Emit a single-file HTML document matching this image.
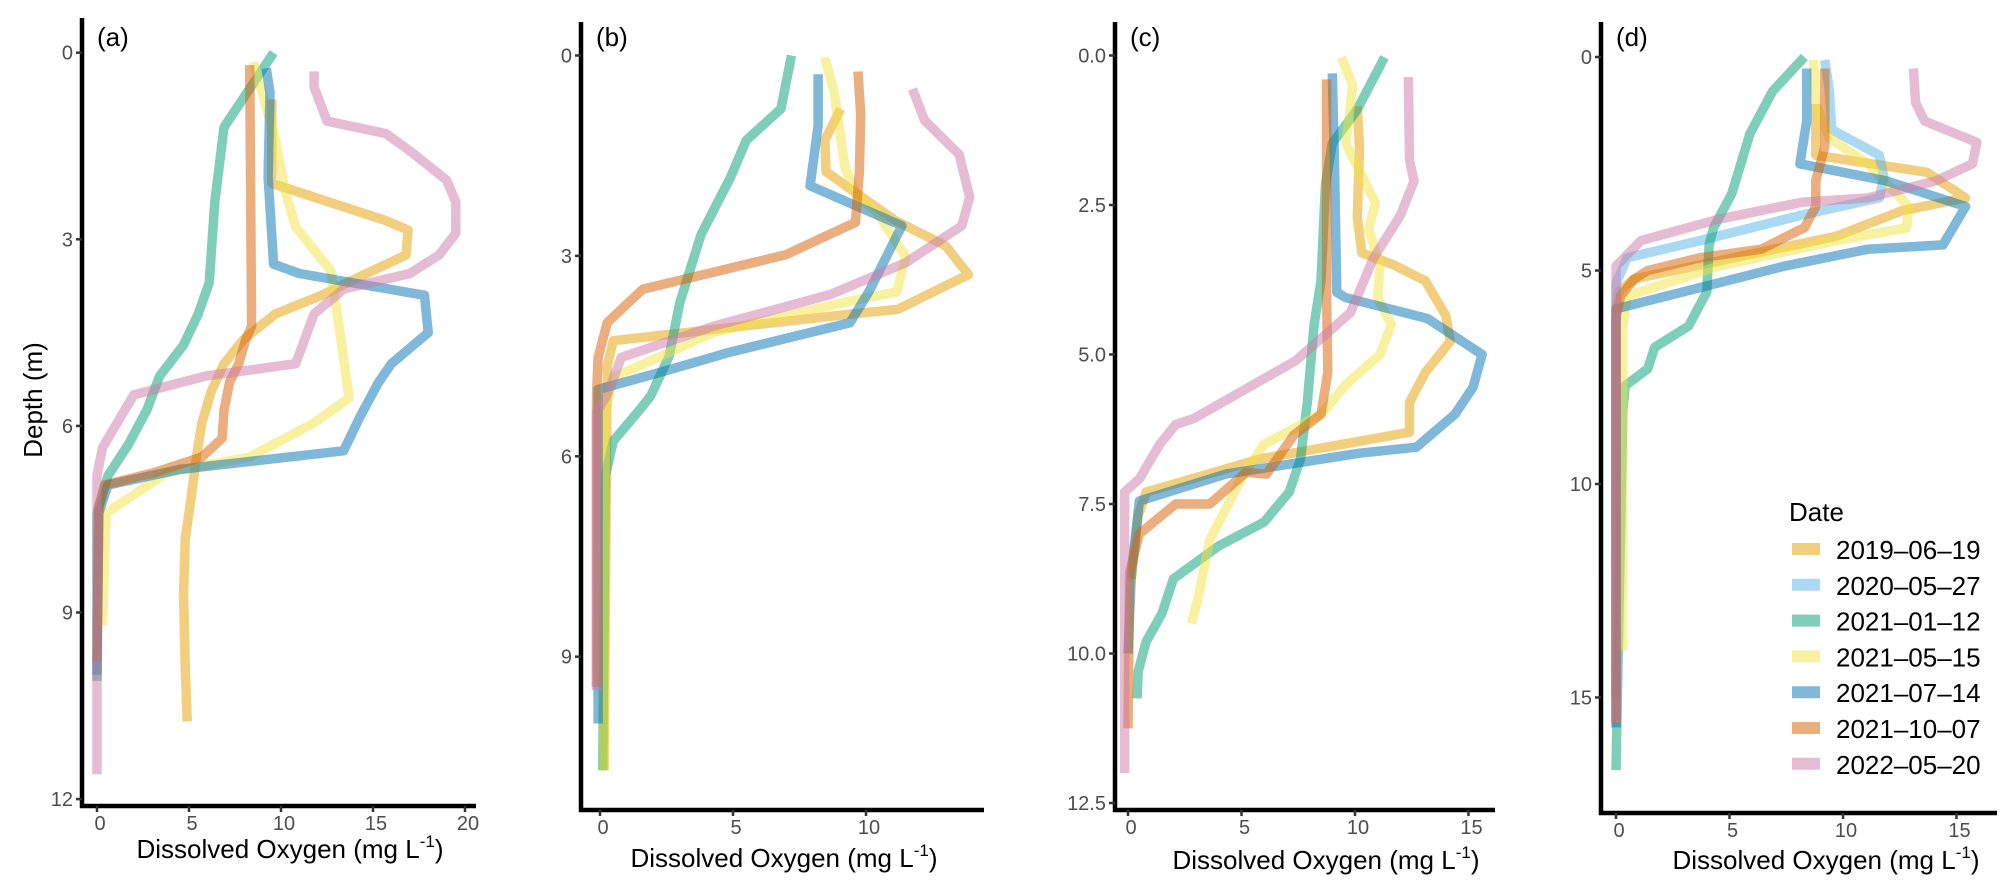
<!DOCTYPE html>
<html><head><meta charset="utf-8">
<style>
body{margin:0;background:#fff;}
svg{display:block;font-family:"Liberation Sans",sans-serif;}
.tick{fill:#4d4d4d;font-size:20px;}
.ttl{fill:#000;font-size:26px;}
</style></head>
<body>
<svg id="chart" width="2013" height="893" viewBox="0 0 2013 893"></svg>
<script>
const dates = ["2019-06-19","2020-05-27","2021-01-12","2021-05-15","2021-07-14","2021-10-07","2022-05-20"];
const colors = ["#E69F00","#56B4E9","#009E73","#F0E442","#0072B2","#D55E00","#CC79A7"];
const aSeries = {
 "2019-06-19":[[9.5,0.75],[9.5,2.1],[15.7,2.7],[16.9,2.85],[16.8,3.25],[14.3,3.6],[12.2,3.9],[9.7,4.2],[8,4.6],[6.9,5],[6.2,5.45],[5.7,5.95],[5.4,6.5],[5.1,7.2],[4.8,7.8],[4.7,8.7],[4.8,9.9],[4.9,10.75]],
 "2021-01-12":[[9.6,0],[6.9,1.2],[6.4,2.4],[6.1,3.7],[5.5,4.2],[4.7,4.7],[3.4,5.2],[2.7,5.75],[1.7,6.3],[0.6,6.8],[0,7.4],[0,10.1]],
 "2021-05-15":[[8.5,0.15],[9.7,1.4],[10.2,2.2],[10.8,2.8],[12.7,3.5],[13.2,4.5],[13.7,5.55],[11.8,5.95],[8.3,6.5],[3.8,6.75],[0.5,7.4],[0.3,9.2]],
 "2021-07-14":[[9.2,0.25],[9.4,0.65],[9.3,2],[9.6,3.4],[11,3.55],[17.8,3.9],[18,4.5],[16,5.0],[15.3,5.3],[14.3,5.85],[13.4,6.4],[4.5,6.7],[0.6,6.95],[0.1,7.4],[0,10.0]],
 "2021-10-07":[[8.3,0.2],[8.4,4.4],[8.1,4.6],[7.7,5.0],[7.2,5.3],[6.9,5.75],[6.8,6.2],[5.7,6.5],[3.1,6.75],[0.4,6.95],[0.1,7.3],[0,9.8]],
 "2022-05-20":[[11.8,0.3],[11.8,0.55],[12.5,1.1],[15.7,1.3],[17.1,1.6],[19,2.05],[19.5,2.4],[19.5,2.9],[18.6,3.25],[17,3.55],[13.4,3.8],[11.8,4.2],[10.8,5.0],[5.9,5.2],[2,5.5],[0.3,6.35],[0,6.8],[0,11.6]]
};
const bSeries = {
 "2019-06-19":[[9.05,0.8],[8.45,1.27],[8.5,1.74],[9.7,2.08],[11.1,2.47],[13.0,2.85],[13.85,3.28],[11.2,3.8],[9.2,3.88],[0.5,4.27],[0.27,4.65],[0.15,10.7]],
 "2021-01-12":[[7.2,0],[6.8,0.8],[5.5,1.27],[4.9,1.83],[3.8,2.68],[3.0,3.7],[2.6,4.5],[1.9,5.1],[1.5,5.3],[0.5,5.77],[0.2,6.3],[0.1,10.7]],
 "2021-05-15":[[8.45,0.03],[8.8,0.54],[9.2,1.65],[9.6,2.08],[10.4,2.34],[11.5,3.02],[11.15,3.54],[9.45,3.67],[4.3,4.14],[0.5,4.82],[0.2,5.34],[0.15,10.7]],
 "2021-07-14":[[8.2,0.28],[8.2,1.05],[7.9,1.95],[11.35,2.55],[10.1,3.54],[9.4,4.0],[4.9,4.44],[2.3,4.74],[-0.07,5.0],[-0.07,10.0]],
 "2021-10-07":[[9.7,0.24],[9.8,0.88],[9.75,1.74],[9.6,2.5],[9.05,2.6],[7.0,2.98],[1.6,3.5],[0.27,4.0],[-0.07,4.52],[-0.13,5.08],[-0.13,9.45]],
 "2022-05-20":[[11.75,0.5],[12.2,0.97],[13.5,1.48],[13.9,2.12],[13.6,2.55],[11.5,3.1],[8.65,3.58],[4.3,4.05],[0.8,4.52],[0.27,5.08],[-0.13,5.34],[-0.13,9.5]]
};
const cSeries = {
 "2019-06-19":[[10.1,0.85],[10.2,1.55],[10.1,2.7],[10.3,3.3],[11.7,3.5],[13.1,3.77],[14.0,4.35],[14.2,4.78],[13.1,5.3],[12.4,5.8],[12.4,6.3],[5.8,6.75],[0.8,7.3],[0.45,7.7],[0.15,8.75]],
 "2021-01-12":[[11.3,0.03],[10.1,0.9],[9.0,1.47],[8.7,2.15],[8.5,3.77],[8.2,4.5],[7.9,5.8],[7.6,6.75],[7.1,7.3],[6.0,7.8],[4.0,8.2],[2.0,8.75],[1.5,9.33],[0.8,9.8],[0.45,10.3],[0.4,10.75]],
 "2021-05-15":[[9.4,0.03],[9.9,0.5],[9.6,1.47],[10.9,2.47],[10.6,2.9],[11.1,3.5],[11.0,4.05],[11.6,4.5],[11.1,5.0],[9.6,5.5],[8.5,6.0],[6.0,6.5],[5.1,7.0],[3.6,8.1],[3.1,9.05],[2.8,9.5]],
 "2021-07-14":[[9.0,0.3],[9.1,1.9],[9.2,3.96],[9.6,4.05],[13.2,4.4],[14.0,4.6],[15.6,5.0],[15.2,5.55],[14.4,6.0],[12.7,6.55],[10.2,6.65],[4.3,7.0],[0.5,7.45],[0.15,8.65],[0,10]],
 "2021-10-07":[[8.75,0.4],[8.75,4.05],[8.8,5.3],[8.5,6.0],[7.3,6.35],[6.1,7.0],[5.2,6.97],[3.6,7.5],[2.1,7.5],[0.5,8.0],[0.07,8.65],[0,11.25]],
 "2022-05-20":[[12.35,0.36],[12.4,1.75],[12.6,2.1],[12.0,2.67],[10.8,3.4],[9.8,4.3],[7.4,5.1],[4.9,5.64],[2.9,6.07],[2.1,6.17],[1.4,6.5],[0.5,7.08],[-0.15,7.3],[-0.15,12]]
};
const dSeries = {
 "2019-06-19":[[8.8,1.1],[8.8,2.3],[13.7,2.7],[15.4,3.3],[12.6,3.6],[9.7,4.2],[5.2,4.7],[0.8,5.2],[0.1,5.5],[0,6]],
 "2020-05-27":[[9.2,0.07],[9.4,0.8],[9.5,1.7],[11.6,2.3],[11.8,2.8],[11.6,3.3],[8.2,3.7],[3.7,4.3],[0.5,4.7],[0,5.3],[0,15]],
 "2021-01-12":[[8.3,0],[6.9,0.8],[5.9,1.8],[5.1,3.2],[4.3,4.0],[4.1,4.4],[4.0,5.5],[3.2,6.3],[1.7,6.8],[1.4,7.3],[0.4,7.7],[0.3,8.3],[0,16.7]],
 "2021-05-15":[[8.7,0.07],[8.8,1.1],[9.4,1.9],[11.1,2.5],[12.9,3.5],[12.8,4.0],[9.7,4.3],[4.5,4.9],[0.5,5.6],[0.3,6.3],[0.3,13.9]],
 "2021-07-14":[[8.4,0.27],[8.4,1.5],[8.1,2.5],[11.9,2.9],[15.4,3.5],[14.4,4.4],[11.1,4.5],[7.4,4.9],[3.7,5.4],[0,5.9],[0,15.7]],
 "2021-10-07":[[9.2,0.27],[9.2,2.1],[8.8,2.9],[8.8,3.5],[8.3,4.0],[7.9,4.1],[6.4,4.5],[3.7,4.7],[1.4,5.0],[0.8,5.2],[0.2,5.6],[0,6.1],[0,15.6]],
 "2022-05-20":[[13.1,0.27],[13.2,1.07],[13.6,1.5],[15.9,2.0],[15.7,2.5],[14.1,2.9],[11.1,3.3],[8.2,3.4],[4.5,3.8],[1.1,4.3],[0,4.9],[0,15.6]]
};
const aXTicks=[0,5,10,15,20], aYTicks=[0,3,6,9,12];
const bXTicks=[0,5,10], bYTicks=[0,3,6,9];
const cXTicks=[0,5,10,15], cYTicks=[0,2.5,5,7.5,10,12.5];
const dXTicks=[0,5,10,15], dYTicks=[0,5,10,15];

const NS="http://www.w3.org/2000/svg";
const svg=document.getElementById('chart');
function mk(tag,attrs,parent){const e=document.createElementNS(NS,tag);for(const k in attrs)e.setAttribute(k,attrs[k]);(parent||svg).appendChild(e);return e;}

const panels=[
 {id:'a',s:aSeries,xt:aXTicks,yt:aYTicks,ax:82,top:18,bot:806,right:476,x0:97,xk:18.4,y0:52.7,yk:62.2,tc:290,tb:858,yfmt:v=>String(v)},
 {id:'b',s:bSeries,xt:bXTicks,yt:bYTicks,ax:581,top:22,bot:810,right:984,x0:600,xk:26.6,y0:55.5,yk:66.8,tc:784,tb:867,yfmt:v=>String(v)},
 {id:'c',s:cSeries,xt:cXTicks,yt:cYTicks,ax:1115,top:22,bot:810,right:1495,x0:1128,xk:22.7,y0:55.5,yk:59.8,tc:1326,tb:869,yfmt:v=>v.toFixed(1)},
 {id:'d',s:dSeries,xt:dXTicks,yt:dYTicks,ax:1601,top:22,bot:813,right:1997,x0:1616,xk:22.7,y0:57,yk:42.7,tc:1826,tb:869,yfmt:v=>String(v)}
];
panels.forEach(p=>{
 const g=mk('g',{});
 
 
 const X=v=>p.x0+p.xk*v, Y=d=>p.y0+p.yk*d;
 dates.forEach((dt,i)=>{
  const pts=p.s[dt]; if(!pts) return;
  const pl=mk('polyline',{points:pts.map(q=>X(q[0]).toFixed(1)+','+Y(q[1]).toFixed(1)).join(' '),fill:'none',stroke:colors[i],'stroke-width':9.5,'stroke-opacity':0.5,'stroke-linejoin':'round'},g);
  
  
 });
 const ya=mk('line',{x1:p.ax,y1:p.top,x2:p.ax,y2:p.bot+2,stroke:'#000','stroke-width':4.5},g);
 
 
 const xa=mk('line',{x1:p.ax-2,y1:p.bot,x2:p.right,y2:p.bot,stroke:'#000','stroke-width':4.5},g);
 
 
 p.yt.forEach(v=>{
  mk('line',{x1:p.ax-6,y1:Y(v),x2:p.ax,y2:Y(v),stroke:'#333','stroke-width':2.5},g);
  const t=mk('text',{x:p.ax-9,y:Y(v)+7,'text-anchor':'end',class:'tick'},g);
  t.textContent=p.yfmt(v);
  
  
 });
 p.xt.forEach(v=>{
  mk('line',{x1:X(v),y1:p.bot,x2:X(v),y2:p.bot+6,stroke:'#333','stroke-width':2.5},g);
  const t=mk('text',{x:X(v)+3,y:p.bot+24,'text-anchor':'middle',class:'tick'},g);
  t.textContent=String(v);
  
  
 });
 const lb=mk('text',{x:p.ax+15,y:46,class:'ttl','font-size':'26'},g);
 lb.textContent='('+p.id+')';
 
 
 const xt=mk('text',{x:p.tc,y:p.tb,'text-anchor':'middle',class:'ttl','font-size':'29'},g);
 xt.innerHTML='Dissolved Oxygen (mg L<tspan dy="-11" font-size="17">-1</tspan><tspan dy="11">)</tspan>';
 
 
});
const yt=mk('text',{x:0,y:0,transform:'translate(42,400) rotate(-90)','text-anchor':'middle',class:'ttl','font-size':'29'});
yt.textContent='Depth (m)';


const lg=mk('g',{});


const lt=mk('text',{x:1789,y:521,class:'ttl','font-size':'26'},lg);
lt.textContent='Date';


dates.forEach((dt,i)=>{
 const y=549+i*35.8;
 const e=mk('g',{},lg);
 
 
 mk('line',{x1:1792,y1:y,x2:1820,y2:y,stroke:colors[i],'stroke-width':12,'stroke-opacity':0.5},e);
 const t=mk('text',{x:1836,y:y+10,class:'ttl','font-size':'27'},e);
 t.textContent=dt.replace(/-/g,'\u2013');
});
</script>
</body></html>
